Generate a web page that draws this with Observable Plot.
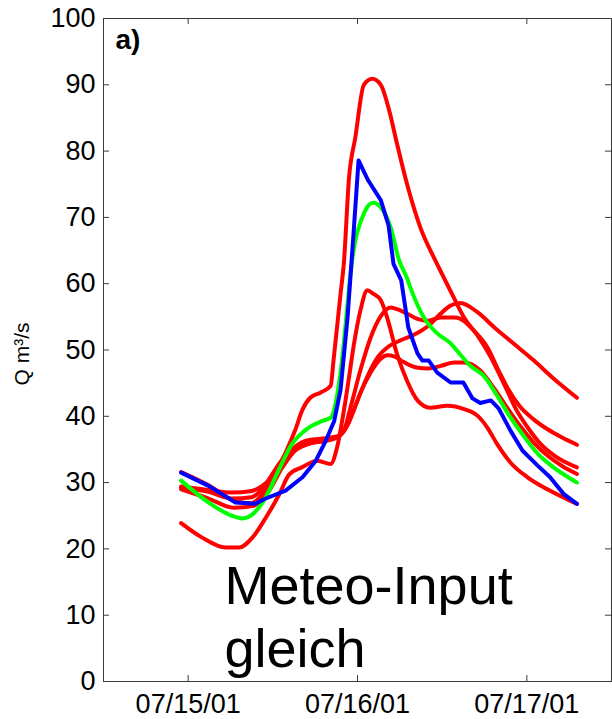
<!DOCTYPE html>
<html><head><meta charset="utf-8">
<script src="https://cdn.jsdelivr.net/npm/d3@7"></script>
<script src="https://cdn.jsdelivr.net/npm/@observablehq/plot@0.6"></script>
<style>body{margin:0;background:#fff;}</style>
</head><body><div id="chart"></div>
<script>
// hours relative to 07/15/01 00:00, discharge Q in m³/s
const hoursObs = [-1.0, 2.9, 6.7, 9.5, 11.0, 13.8, 16.2, 18.1, 19.5, 20.7, 21.6, 22.6, 23.4, 24.15, 25.5, 27.3, 28.4, 29.1, 30.2, 31.2, 32.5, 33.2, 34.1, 35.3, 37.2, 39.0, 40.3, 41.4, 42.9, 44.0, 45.7, 47.4, 49.5, 51.3, 53.2, 55.1];
const qObs     = [31.5, 29.5, 27.0, 26.8, 27.6, 28.8, 30.8, 33.3, 36.3, 39.3, 44.0, 55.0, 67.0, 78.6, 75.6, 72.6, 68.8, 63.0, 60.5, 53.4, 49.5, 48.4, 48.4, 46.6, 45.1, 45.1, 42.7, 42.0, 42.4, 41.2, 37.8, 34.8, 32.6, 30.8, 28.3, 26.8];

const hoursRef = [-1.0, 2.9, 6.2, 7.7, 9.1, 11.0, 12.8, 14.7, 17.1, 19.0, 20.2, 21.1, 21.8, 22.5, 23.0, 25.0, 26.2, 27.3, 28.7, 29.9, 31.0, 31.5, 33.4, 35.3, 37.2, 38.1, 40.0, 41.9, 43.8, 45.7, 47.3, 49.5, 51.8, 55.1];
const qRef     = [30.3, 27.0, 25.0, 24.6, 25.2, 27.8, 31.8, 35.8, 38.3, 39.3, 39.8, 43.1, 48.4, 55.9, 61.5, 70.8, 72.2, 71.5, 68.5, 63.5, 60.9, 59.4, 54.9, 52.5, 51.0, 49.9, 47.6, 46.1, 43.1, 39.8, 37.4, 34.4, 32.3, 30.0];

const hoursA = [-1.0, 2.9, 6.2, 8.8, 10.5, 12.0, 13.8, 15.2, 16.2, 17.3, 18.8, 20.2, 20.6, 21.6, 22.06, 22.8, 23.7, 24.9, 26.1, 27.3, 28.5, 29.6, 31.0, 32.9, 34.8, 36.2, 37.6, 39.1, 41.0, 42.9, 44.3, 45.2, 46.5, 48.0, 49.8, 52.0, 55.1];
const qA     = [29.4, 28.9, 28.5, 28.7, 29.5, 31.0, 34.5, 38.0, 41.0, 42.8, 43.6, 44.6, 48.4, 58.5, 63.0, 76.0, 82.1, 90.0, 90.9, 90.0, 86.1, 81.1, 75.1, 68.5, 64.0, 61.0, 58.0, 54.9, 52.2, 48.9, 45.9, 43.9, 41.0, 38.5, 36.0, 34.0, 32.3];

const hoursB = [-1.0, 2.0, 5.3, 7.2, 9.1, 11.0, 12.9, 14.3, 16.1, 18.3, 20.2, 21.1, 22.06, 22.8, 23.5, 24.4, 25.4, 26.2, 27.3, 28.2, 29.6, 31.0, 32.5, 34.3, 36.7, 39.1, 41.0, 42.4, 43.8, 45.7, 48.1, 50.9, 53.7, 55.1];
const qB     = [23.9, 21.7, 20.2, 20.2, 21.7, 24.7, 28.2, 31.2, 32.3, 33.3, 32.8, 35.3, 40.8, 45.9, 50.9, 55.9, 59.0, 58.5, 57.5, 54.9, 49.4, 45.4, 42.4, 41.3, 41.6, 41.1, 40.1, 38.3, 35.8, 33.0, 30.8, 29.0, 27.5, 26.8];

const hoursC = [-1.0, 2.9, 6.7, 9.0, 11.0, 12.8, 14.7, 17.0, 19.5, 21.0, 22.06, 23.0, 24.4, 25.8, 27.3, 28.7, 29.5, 31.0, 32.5, 33.9, 35.8, 37.7, 38.6, 40.5, 42.4, 44.0, 45.2, 47.0, 49.0, 51.0, 53.0, 55.1];
const qC     = [31.6, 29.6, 27.2, 26.9, 29.0, 32.0, 34.5, 35.8, 36.3, 36.8, 37.8, 41.3, 46.9, 51.7, 55.1, 56.4, 56.2, 55.5, 54.7, 54.4, 54.9, 54.9, 54.7, 52.9, 50.4, 46.9, 44.4, 41.5, 39.5, 38.0, 36.8, 35.7];

const hoursD = [-1.0, 2.9, 6.5, 9.3, 11.3, 13.3, 15.3, 17.5, 19.8, 21.4, 22.5, 24.0, 25.4, 26.8, 28.5, 30.2, 32.2, 34.1, 35.8, 37.2, 38.6, 41.0, 43.4, 46.2, 49.0, 51.9, 55.1];
const qD     = [29.0, 27.6, 26.2, 26.5, 28.5, 32.2, 35.0, 36.0, 36.4, 37.0, 38.5, 42.4, 46.0, 48.8, 50.6, 51.5, 52.4, 53.7, 55.5, 56.7, 57.1, 55.7, 53.4, 50.9, 48.4, 45.6, 42.8];

const hoursE = [-1.0, 2.9, 6.2, 9.0, 11.0, 13.0, 15.0, 17.0, 19.5, 21.2, 22.5, 23.5, 24.4, 25.8, 27.3, 28.2, 29.3, 30.2, 32.2, 34.1, 35.8, 37.7, 39.1, 41.4, 43.3, 45.2, 47.0, 49.0, 51.0, 53.0, 55.1];
const qE     = [29.3, 28.6, 27.6, 27.8, 29.8, 33.0, 35.3, 36.4, 36.7, 37.0, 38.5, 41.0, 43.5, 46.5, 48.7, 49.2, 49.0, 48.4, 47.4, 47.2, 47.6, 48.1, 48.1, 46.9, 44.3, 41.3, 38.6, 36.0, 34.0, 32.5, 31.3];

const yTicks = [0, 10, 20, 30, 40, 50, 60, 70, 80, 90, 100];
const xTickDays = ["2001-07-15", "2001-07-16", "2001-07-17"];
const xDomain = ["2001-07-14T12:00Z", "2001-07-17T12:00Z"];
const panelLabel = "a)";
const noteLabel = "Meteo-Input\ngleich";
const yLabel = "Q m³/s";

const base = Date.UTC(2001, 6, 15);
const toRows = (name, hours, q) => hours.map((h, i) => ({series: name, t: new Date(base + h * 3600e3), q: q[i]}));
const redRows = [
  ...toRows("A", hoursA, qA), ...toRows("B", hoursB, qB), ...toRows("C", hoursC, qC),
  ...toRows("D", hoursD, qD), ...toRows("E", hoursE, qE)
];
const refRows = toRows("ref", hoursRef, qRef);
const obsRows = toRows("obs", hoursObs, qObs);
const xTicks = xTickDays.map(d => new Date(d + "T00:00Z"));

const W = 612, H = 719, mL = 103, mR = 1, mT = 18, mB = 38;
const pw = W - mL - mR, ph = H - mT - mB;
const frameColor = "#3a3a3a";

const chart = Plot.plot({
  width: W, height: H,
  marginLeft: mL, marginRight: mR, marginTop: mT, marginBottom: mB,
  style: {fontFamily: "'Liberation Sans', Arial, sans-serif", fontSize: "27px", background: "white", color: "black"},
  x: {type: "utc", domain: xDomain.map(d => new Date(d))},
  y: {domain: [0, 100]},
  marks: [
    Plot.axisY({ticks: yTicks, tickSize: 0, tickPadding: 8, label: null, fontSize: 27}),
    Plot.axisX({ticks: xTicks, tickSize: 0, tickPadding: 12, label: null, fontSize: 27, tickFormat: d3.utcFormat("%m/%d/%y")}),
    Plot.tickY(yTicks, {y: d => d, insetRight: pw - 6, stroke: frameColor}),
    Plot.tickY(yTicks, {y: d => d, insetLeft: pw - 6, stroke: frameColor}),
    Plot.tickX(xTicks, {x: d => d, insetTop: ph - 6, stroke: frameColor}),
    Plot.tickX(xTicks, {x: d => d, insetBottom: ph - 6, stroke: frameColor}),
    Plot.line(redRows, {x: "t", y: "q", z: "series", stroke: "#ff0000", strokeWidth: 4, curve: "monotone-x"}),
    Plot.line(refRows, {x: "t", y: "q", stroke: "#00ff00", strokeWidth: 4, curve: "monotone-x"}),
    Plot.line(obsRows, {x: "t", y: "q", stroke: "#0000ff", strokeWidth: 4, curve: "linear"}),
    Plot.frame({stroke: frameColor}),
    Plot.text([panelLabel], {frameAnchor: "top-left", dx: 12, dy: 11, text: d => d, fontSize: 28, fontWeight: "bold", textAnchor: "start", lineAnchor: "top", fill: "black"}),
    Plot.text([noteLabel], {frameAnchor: "bottom-left", dx: 121, dy: -15, text: d => d, fontSize: 54, textAnchor: "start", lineAnchor: "bottom", lineHeight: 1.15, fill: "black"}),
    Plot.text([yLabel], {frameAnchor: "left", dx: -81, dy: 4, text: d => d, fontSize: 21, rotate: -90, textAnchor: "middle", fill: "black"})
  ]
});
document.getElementById("chart").append(chart);
</script></body></html>
